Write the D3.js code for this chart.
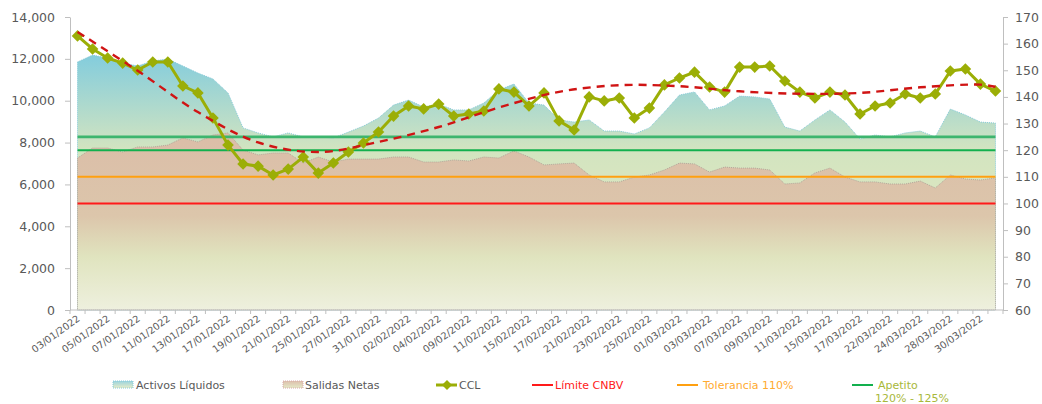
<!DOCTYPE html>
<html>
<head>
<meta charset="utf-8">
<script src="https://cdn.jsdelivr.net/npm/d3@7"></script>
<style>
  body { margin: 0; background: #fff; }
  text { font-family: "DejaVu Sans", Verdana, sans-serif; }
</style>
</head>
<body>
<div id="chart"></div>
<script>
// Business days (labels on the category axis)
const dates = [
  "03/01/2022","04/01/2022","05/01/2022","06/01/2022","07/01/2022","10/01/2022","11/01/2022","12/01/2022",
  "13/01/2022","14/01/2022","17/01/2022","18/01/2022","19/01/2022","20/01/2022","21/01/2022","24/01/2022",
  "25/01/2022","26/01/2022","27/01/2022","28/01/2022","31/01/2022",
  "01/02/2022","02/02/2022","03/02/2022","04/02/2022","08/02/2022","09/02/2022","10/02/2022","11/02/2022",
  "14/02/2022","15/02/2022","16/02/2022","17/02/2022","18/02/2022","21/02/2022","22/02/2022","23/02/2022",
  "24/02/2022","25/02/2022","28/02/2022",
  "01/03/2022","02/03/2022","03/03/2022","04/03/2022","07/03/2022","08/03/2022","09/03/2022","10/03/2022",
  "11/03/2022","14/03/2022","15/03/2022","16/03/2022","17/03/2022","18/03/2022","22/03/2022","23/03/2022",
  "24/03/2022","25/03/2022","28/03/2022","29/03/2022","30/03/2022","31/03/2022"
];

// Left axis series (millions)
const activos = [
  11850,12180,12040,11800,11660,11900,11990,11660,11320,11040,10370,8700,8460,8270,8460,8270,8270,8220,8500,8790,
  9170,9790,10030,9700,9840,9560,9560,9890,10510,10800,9890,9790,9080,8980,9080,8550,8550,8410,8700,9460,10270,
  10420,9560,9750,10220,10180,10080,8740,8550,9080,9560,8980,8170,8360,8270,8460,8550,8270,9600,9320,8980,8930
];
const salidas = [
  7260,7740,7740,7550,7790,7790,7880,8220,8030,8360,8460,7640,7410,7500,7500,7020,7310,7070,7210,7210,
  7210,7310,7310,7070,7070,7170,7120,7310,7260,7600,7310,6930,6980,7020,6450,6120,6120,6350,6450,6690,7020,
  6980,6590,6830,6780,6780,6690,6020,6070,6550,6780,6350,6120,6120,6020,6020,6160,5830,6450,6260,6210,6310
];

// Right axis series (%)
const ccl = [
  162.9,158,154.6,152.7,150.1,153.1,153.1,144.1,141.5,132.1,121.9,114.8,114,110.7,112.9,117.4,111.4,115.2,119.3,122.7,
  126.8,132.8,136.6,135.5,137.3,132.8,133.6,134.7,143,141.8,136.6,141.5,131,127.6,140,138.5,139.6,132.1,135.8,144.5,
  147.1,149.3,143.7,141.8,151.2,151.2,151.6,146,141.8,139.6,141.8,140.7,133.6,136.6,137.7,141.1,139.6,141.1,149.7,150.5,
  144.8,142.2
];
// Trend line read at some categories
const trendIdx = [0,4,8,12,16,20,24,28,32,36,40,44,48,52,56,60,61];
const trendVals = [164.4,149.8,134.3,122.9,119.3,123.1,128.7,136,141.9,144.4,144,142.1,141.2,141.5,143.6,144.6,143.8];

const limite = 100, tolerancia = 110, apetitoLow = 120, apetitoHigh = 125;

const leftTicks = d3.range(0, 14001, 2000);
const rightTicks = d3.range(60, 171, 10);

// Setup
const width = 1042, height = 404;
const plotLeft = 70, plotRight = 1003, plotTop = 17, plotBottom = 310;

const svg = d3.select("#chart").append("svg")
  .attr("width", width).attr("height", height);

const x = d3.scaleBand().domain(d3.range(dates.length)).range([plotLeft, plotRight]).padding(0);
const cx = i => x(i) + x.bandwidth() / 2;
const yL = d3.scaleLinear().domain([0, 14000]).range([plotBottom, plotTop]);
const yR = d3.scaleLinear().domain([60, 170]).range([plotBottom, plotTop]);

// Gradients
const defs = svg.append("defs");
const gA = defs.append("linearGradient").attr("id", "gActivos")
  .attr("gradientUnits", "userSpaceOnUse").attr("x1", 0).attr("x2", 0).attr("y1", plotTop).attr("y2", plotBottom);
[[0, "#72C2DA"], [0.15, "#88CEDB"], [0.45, "#D2E4C0"], [0.72, "#E0E8C0"], [1, "#EFF1E0"]]
  .forEach(s => gA.append("stop").attr("offset", s[0]).attr("stop-color", s[1]));
const gS = defs.append("linearGradient").attr("id", "gSalidas")
  .attr("gradientUnits", "userSpaceOnUse").attr("x1", 0).attr("x2", 0).attr("y1", plotTop).attr("y2", plotBottom);
[[0.42, "#DBBEA8"], [0.68, "#DCC6AB"], [0.82, "#E0E4BF"], [1, "#EEF0DE"]]
  .forEach(s => gS.append("stop").attr("offset", s[0]).attr("stop-color", s[1]));
const gAL = defs.append("linearGradient").attr("id", "gActivosLeg").attr("x1", 0).attr("x2", 0).attr("y1", 0).attr("y2", 1);
[[0, "#9AD3DE"], [1, "#E6ECC8"]].forEach(s => gAL.append("stop").attr("offset", s[0]).attr("stop-color", s[1]));
const gSL = defs.append("linearGradient").attr("id", "gSalidasLeg").attr("x1", 0).attr("x2", 0).attr("y1", 0).attr("y2", 1);
[[0, "#DDC0AC"], [1, "#E4E8C6"]].forEach(s => gSL.append("stop").attr("offset", s[0]).attr("stop-color", s[1]));

// Areas
const areaL = d3.area().x((d, i) => cx(i)).y0(yL(0)).y1(d => yL(d));
svg.append("path").datum(activos)
  .attr("d", areaL)
  .attr("fill", "url(#gActivos)")
  .attr("stroke", "#86CAD8").attr("stroke-width", 1).attr("stroke-dasharray", "1,1");
svg.append("path").datum(salidas)
  .attr("d", areaL)
  .attr("fill", "url(#gSalidas)")
  .attr("stroke", "#B3A79B").attr("stroke-width", 1).attr("stroke-dasharray", "1,1");

// Reference lines
const refs = [
  { v: limite, color: "#FF1A1A", w: 2 },
  { v: tolerancia, color: "#FFA010", w: 2 },
  { v: apetitoLow, color: "#12B04E", w: 2 },
  { v: apetitoHigh, color: "#3DB56E", w: 2.6 }
];
svg.append("g").selectAll("line").data(refs).join("line")
  .attr("x1", cx(0)).attr("x2", cx(dates.length - 1))
  .attr("y1", d => yR(d.v)).attr("y2", d => yR(d.v))
  .attr("stroke", d => d.color).attr("stroke-width", d => d.w);

// Axes
const axisColor = "#BFBFBF", labelColor = "#595959";
const gLeft = svg.append("g").attr("transform", `translate(${plotLeft},0)`)
  .call(d3.axisLeft(yL).tickValues(leftTicks).tickFormat(d3.format(",")).tickSize(5).tickSizeOuter(0).tickPadding(10));
const gRight = svg.append("g").attr("transform", `translate(${plotRight},0)`)
  .call(d3.axisRight(yR).tickValues(rightTicks).tickSize(5).tickSizeOuter(0).tickPadding(7));
[gLeft, gRight].forEach(g => {
  g.select(".domain").attr("stroke", axisColor);
  g.selectAll(".tick line").attr("stroke", axisColor);
  g.selectAll(".tick text").attr("fill", labelColor).style("font-size", "12.5px")
    .style("font-family", "'DejaVu Sans', Verdana, sans-serif");
});

// Category axis
const gX = svg.append("g");
gX.append("line").attr("x1", plotLeft).attr("x2", plotRight)
  .attr("y1", plotBottom).attr("y2", plotBottom).attr("stroke", axisColor);
gX.selectAll("line.tk").data(d3.range(dates.length + 1)).join("line").attr("class", "tk")
  .attr("x1", i => plotLeft + i * x.bandwidth()).attr("x2", i => plotLeft + i * x.bandwidth())
  .attr("y1", plotBottom).attr("y2", plotBottom + 4).attr("stroke", axisColor);
gX.selectAll("text").data(dates.map((d, i) => ({ d, i })).filter(o => o.i % 2 === 0)).join("text")
  .attr("transform", o => `translate(${cx(o.i) + 3},${plotBottom + 10}) rotate(-36)`)
  .attr("text-anchor", "end")
  .attr("fill", labelColor).style("font-size", "9.8px")
  .text(o => o.d);

// CCL line with diamonds
const cclColor = "#9BAE06";
const lineR = d3.line().x((d, i) => cx(i)).y(d => yR(d));
svg.append("path").datum(ccl).attr("d", lineR)
  .attr("fill", "none").attr("stroke", cclColor).attr("stroke-width", 3).attr("stroke-linejoin", "round");
const diamond = s => `M0,${-s}L${s},0L0,${s}L${-s},0Z`;
svg.append("g").selectAll("path").data(ccl).join("path")
  .attr("d", diamond(5.8))
  .attr("transform", (d, i) => `translate(${cx(i)},${yR(d)})`)
  .attr("fill", cclColor);

// Trend (dashed red)
const trendLine = d3.line().curve(d3.curveCatmullRom.alpha(0.5))
  .x((d, k) => cx(trendIdx[k])).y(d => yR(d));
svg.append("path").datum(trendVals).attr("d", trendLine)
  .attr("fill", "none").attr("stroke", "#D01414").attr("stroke-width", 2.4).attr("stroke-dasharray", "8,6");

// Legend
const leg = svg.append("g").style("font-size", "11px");
const ly = 385;
leg.append("rect").attr("x", 113).attr("y", ly - 4).attr("width", 20).attr("height", 7)
  .attr("fill", "url(#gActivosLeg)").attr("stroke", "#86CAD8").attr("stroke-dasharray", "1,1");
leg.append("text").attr("x", 136).attr("y", ly + 4).attr("fill", labelColor).text("Activos Líquidos");
leg.append("rect").attr("x", 283).attr("y", ly - 4).attr("width", 20).attr("height", 7)
  .attr("fill", "url(#gSalidasLeg)").attr("stroke", "#D8A8A8").attr("stroke-dasharray", "1,1");
leg.append("text").attr("x", 305).attr("y", ly + 4).attr("fill", labelColor).text("Salidas Netas");
leg.append("line").attr("x1", 436).attr("x2", 457).attr("y1", ly).attr("y2", ly)
  .attr("stroke", cclColor).attr("stroke-width", 3);
leg.append("path").attr("d", diamond(5)).attr("transform", `translate(447,${ly})`).attr("fill", cclColor);
leg.append("text").attr("x", 459).attr("y", ly + 4).attr("fill", labelColor).text("CCL");
leg.append("line").attr("x1", 532).attr("x2", 553).attr("y1", ly).attr("y2", ly)
  .attr("stroke", "#FF1A1A").attr("stroke-width", 2);
leg.append("text").attr("x", 555).attr("y", ly + 4).attr("fill", "#FF2020").text("Límite CNBV");
leg.append("line").attr("x1", 677).attr("x2", 698).attr("y1", ly).attr("y2", ly)
  .attr("stroke", "#FFA010").attr("stroke-width", 2);
leg.append("text").attr("x", 703).attr("y", ly + 4).attr("fill", "#FFAA30").text("Tolerancia 110%");
leg.append("line").attr("x1", 852).attr("x2", 873).attr("y1", ly).attr("y2", ly)
  .attr("stroke", "#12B04E").attr("stroke-width", 2);
leg.append("text").attr("x", 878).attr("y", ly + 4).attr("fill", "#A8B83A").text("Apetito");
leg.append("text").attr("x", 875).attr("y", ly + 17).attr("fill", "#A8B83A").text("120% - 125%");
</script>
</body>
</html>
